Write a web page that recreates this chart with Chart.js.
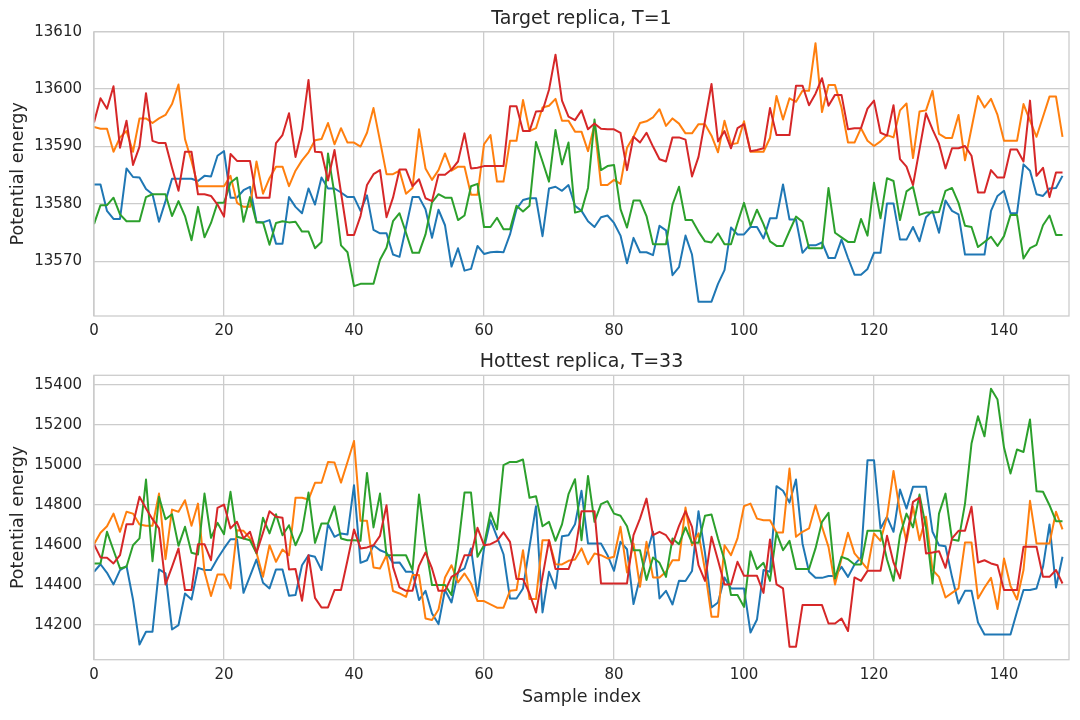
<!DOCTYPE html>
<html>
<head>
<meta charset="utf-8">
<title>Replica potential energy</title>
<script src="https://cdn.jsdelivr.net/npm/chart.js@4.4.0/dist/chart.umd.min.js"></script>
<style>
  html, body { margin: 0; padding: 0; background: #ffffff; }
  #wrap { position: relative; width: 1080px; height: 720px; }
  .box { position: absolute; left: 0; width: 1080px; }
  #box-top { top: 0; height: 345px; }
  #box-hot { top: 345px; height: 375px; }
</style>
</head>
<body>
<div id="wrap">
  <div class="box" id="box-top"><canvas id="chart-top"></canvas></div>
  <div class="box" id="box-hot"><canvas id="chart-hot"></canvas></div>
</div>
<script>
// --- data ------------------------------------------------------------------
const seriesNames = ["Run 1", "Run 2", "Run 3", "Run 4"];
const xTicks = [0, 20, 40, 60, 80, 100, 120, 140];
const topTicks = [13570, 13580, 13590, 13600, 13610];
const hotTicks = [14200, 14400, 14600, 14800, 15000, 15200, 15400];

// Target replica, T=1
const topBlue = [
  13583.4, 13583.4, 13578.8, 13577.4, 13577.4, 13586.2, 13584.7, 13584.6, 13582.6, 13581.7,
  13576.9, 13580.5, 13584.4, 13584.4, 13584.4, 13584.4, 13584.0, 13584.9, 13584.8, 13588.4,
  13589.2, 13581.1, 13581.1, 13582.4, 13583.0, 13576.9, 13576.8, 13577.2, 13573.1, 13573.1,
  13581.2, 13579.5, 13578.4, 13582.7, 13579.9, 13584.6, 13582.7, 13582.7, 13582.0, 13581.2,
  13581.2, 13578.8, 13581.5, 13575.5, 13574.9, 13574.9, 13571.2, 13570.8, 13575.9, 13581.2,
  13581.2, 13579.1, 13574.1, 13579.0, 13576.3, 13569.1, 13572.3, 13568.4, 13568.7, 13572.7,
  13571.3, 13571.6, 13571.7, 13571.6, 13574.7, 13579.1, 13580.7, 13581.0, 13581.0, 13574.4,
  13582.7, 13583.0, 13582.3, 13583.3, 13579.7, 13578.8, 13577.0, 13576.0, 13577.7, 13578.0,
  13576.7, 13574.5, 13569.7, 13574.1, 13571.6, 13571.6, 13571.1, 13576.2, 13575.4, 13567.6,
  13569.0, 13574.5, 13571.2, 13563.0, 13563.0, 13563.0, 13566.1, 13568.5, 13575.9, 13574.7,
  13574.7, 13576.0, 13576.0, 13574.0, 13577.5, 13577.5, 13583.4, 13577.3, 13577.3, 13571.5,
  13572.8, 13572.8, 13573.3, 13570.6, 13570.6, 13573.8, 13570.6, 13567.7, 13567.7, 13568.7,
  13571.5, 13571.5, 13580.1, 13580.1, 13573.8, 13573.8, 13576.0, 13573.5, 13577.7, 13578.8,
  13575.0, 13580.6, 13578.8, 13578.2, 13571.2, 13571.2, 13571.2, 13571.2, 13578.8, 13581.4,
  13582.3, 13578.4, 13578.4, 13586.9, 13585.8, 13581.7, 13581.4, 13582.7, 13582.8, 13584.9
];
const topOrange = [
  13593.4, 13593.1, 13593.1, 13589.1, 13591.6, 13592.7, 13589.1, 13594.9, 13594.9, 13594.1,
  13594.9, 13595.5, 13597.4, 13600.8, 13591.3, 13587.5, 13583.1, 13583.1, 13583.1, 13583.1,
  13583.1, 13584.9, 13580.2, 13579.5, 13579.5, 13587.4, 13581.8, 13584.5, 13586.5, 13586.5,
  13583.1, 13585.8, 13587.6, 13589.0, 13591.1, 13591.3, 13594.1, 13590.4, 13593.2, 13590.7,
  13590.7, 13590.0, 13592.4, 13596.7, 13591.0, 13585.2, 13585.2, 13585.8, 13581.8, 13582.8,
  13593.0, 13586.2, 13584.2, 13585.9, 13588.8, 13585.8, 13586.5, 13586.5, 13581.6, 13581.6,
  13590.4, 13592.0, 13583.9, 13583.9, 13591.0, 13591.0, 13598.1, 13592.7, 13593.2, 13596.8,
  13597.1, 13598.3, 13594.5, 13594.5, 13592.6, 13592.6, 13589.2, 13593.8, 13583.3, 13583.3,
  13584.2, 13583.5, 13589.8, 13591.7, 13594.1, 13594.4, 13595.1, 13596.5, 13593.6, 13594.9,
  13594.0, 13592.3, 13592.3, 13593.9, 13593.9, 13591.9, 13589.0, 13594.5, 13590.4, 13590.6,
  13594.4, 13589.1, 13589.1, 13589.1, 13591.5, 13598.8, 13594.7, 13598.4, 13597.8, 13599.7,
  13599.7, 13608.0, 13596.0, 13600.7, 13600.7, 13596.8, 13590.7, 13590.7, 13593.2, 13591.0,
  13590.1, 13590.9, 13592.0, 13591.6, 13596.3, 13597.5, 13588.0, 13596.1, 13596.3, 13599.7,
  13592.2, 13591.5, 13591.5, 13595.5, 13587.6, 13593.2, 13598.8, 13596.8, 13598.3, 13595.5,
  13591.0, 13591.0, 13591.0, 13597.4, 13594.5, 13591.7, 13595.2, 13598.7, 13598.7, 13591.7
];
const topGreen = [
  13576.5, 13579.8, 13579.8, 13581.1, 13578.2, 13577.0, 13577.0, 13577.0, 13581.2, 13581.7,
  13581.7, 13581.7, 13577.9, 13580.5, 13577.9, 13573.7, 13579.5, 13574.2, 13576.7, 13580.2,
  13580.2, 13583.7, 13584.6, 13576.9, 13581.2, 13576.8, 13576.8, 13572.9, 13576.7, 13577.0,
  13576.8, 13576.9, 13575.2, 13575.2, 13572.3, 13573.4, 13588.8, 13581.7, 13572.8, 13571.6,
  13565.7, 13566.1, 13566.1, 13566.1, 13570.3, 13572.4, 13577.0, 13578.4, 13575.0, 13571.5,
  13571.5, 13574.7, 13580.3, 13581.7, 13581.1, 13581.1, 13577.2, 13578.0, 13583.1, 13583.5,
  13576.0, 13576.0, 13577.6, 13575.6, 13575.6, 13579.7, 13578.7, 13579.7, 13590.8, 13587.4,
  13583.9, 13592.9, 13586.9, 13590.7, 13578.5, 13578.8, 13582.8, 13594.7, 13585.9, 13586.6,
  13586.8, 13579.1, 13575.9, 13580.6, 13580.6, 13577.9, 13573.0, 13573.0, 13573.0, 13579.9,
  13583.0, 13577.2, 13577.2, 13575.2, 13573.5, 13573.3, 13574.9, 13573.0, 13573.0, 13576.7,
  13580.2, 13576.2, 13579.0, 13576.5, 13573.5, 13572.7, 13572.7, 13575.3, 13577.8, 13576.9,
  13572.3, 13572.3, 13572.3, 13582.8, 13575.0, 13574.2, 13573.4, 13573.4, 13577.4, 13574.5,
  13583.7, 13577.5, 13584.5, 13584.0, 13577.2, 13582.2, 13583.0, 13578.1, 13578.5, 13578.5,
  13578.6, 13582.3, 13582.8, 13580.2, 13576.2, 13576.0, 13572.5, 13573.4, 13574.3, 13572.7,
  13574.4, 13578.1, 13578.1, 13570.5, 13572.3, 13572.9, 13576.3, 13578.0, 13574.6, 13574.6
];
const topRed = [
  13594.2, 13598.4, 13596.6, 13600.5, 13589.8, 13594.5, 13586.8, 13590.0, 13599.3, 13591.0,
  13590.6, 13590.6, 13586.3, 13582.3, 13589.1, 13589.1, 13581.7, 13581.7, 13581.4, 13579.9,
  13577.8, 13588.7, 13587.5, 13587.5, 13587.5, 13581.1, 13581.1, 13581.1, 13590.6, 13592.0,
  13595.8, 13588.2, 13593.0, 13601.6, 13589.1, 13589.0, 13584.1, 13589.4, 13582.0, 13574.6,
  13574.6, 13577.9, 13583.3, 13585.2, 13585.9, 13577.7, 13581.1, 13586.0, 13586.0, 13583.1,
  13584.3, 13581.0, 13580.5, 13585.1, 13585.1, 13586.0, 13587.4, 13592.3, 13586.2, 13586.3,
  13586.6, 13586.6, 13586.6, 13586.6, 13597.0, 13597.0, 13592.7, 13592.7, 13596.1, 13596.2,
  13599.9, 13606.0, 13598.0, 13595.2, 13594.6, 13596.3, 13593.0, 13594.0, 13593.1, 13593.0,
  13593.0, 13592.4, 13585.9, 13591.7, 13590.7, 13592.4, 13590.0, 13587.8, 13587.4, 13591.6,
  13591.6, 13591.2, 13584.8, 13588.2, 13594.5, 13600.9, 13590.9, 13592.7, 13589.7, 13593.2,
  13593.9, 13589.2, 13589.4, 13589.7, 13596.7, 13592.0, 13592.0, 13592.0, 13600.6, 13600.6,
  13597.2, 13599.2, 13601.9, 13597.1, 13599.0, 13599.0, 13593.0, 13593.2, 13593.2, 13596.6,
  13598.0, 13592.4, 13591.9, 13597.2, 13587.8, 13586.5, 13583.3, 13589.5, 13595.8, 13593.0,
  13590.5, 13586.2, 13589.7, 13589.7, 13590.1, 13588.4, 13582.0, 13582.0, 13585.9, 13584.6,
  13584.6, 13589.5, 13589.5, 13587.4, 13598.0, 13584.9, 13586.3, 13581.2, 13585.5, 13585.5
];

// Hottest replica, T=33
const hotBlue = [
  14465, 14503, 14460, 14402, 14474, 14494, 14327, 14102, 14166, 14166,
  14477, 14457, 14177, 14199, 14357, 14327, 14485, 14474, 14474, 14532,
  14582, 14628, 14628, 14360, 14444, 14527, 14410, 14382, 14477, 14477,
  14345, 14349, 14498, 14548, 14540, 14474, 14703, 14640, 14657, 14652,
  14898, 14510, 14523, 14598, 14573, 14560, 14510, 14512, 14465, 14465,
  14324, 14370, 14257, 14204, 14374, 14312, 14462, 14482, 14582, 14345,
  14582, 14723, 14640, 14553, 14332, 14332, 14382, 14590, 14793, 14262,
  14465, 14382, 14643, 14648, 14703, 14870, 14607, 14607, 14607, 14548,
  14470, 14615, 14578, 14304, 14437, 14552, 14665, 14332, 14370, 14302,
  14420, 14419, 14469, 14768, 14560, 14287, 14312, 14437, 14382, 14382,
  14382, 14162, 14227, 14474, 14465, 14893, 14870, 14811, 14926, 14607,
  14465, 14435, 14435, 14444, 14444, 14490, 14440, 14502, 14537, 15023,
  15023, 14682, 14740, 14665, 14876, 14781, 14890, 14890, 14890, 14665,
  14598, 14593, 14440, 14307, 14370, 14370, 14212, 14152, 14152, 14152,
  14152, 14152, 14266, 14374, 14374, 14382, 14490, 14702, 14387, 14540
];
const hotOrange = [
  14603, 14660, 14693, 14756, 14665, 14765, 14756, 14702, 14695, 14695,
  14856, 14528, 14776, 14765, 14823, 14695, 14806, 14465, 14344, 14452,
  14452, 14382, 14673, 14670, 14632, 14560, 14440, 14598, 14515, 14577,
  14548, 14835, 14835, 14826, 14910, 14910, 15014, 15011, 14911, 15014,
  15119, 14720, 14720, 14487, 14482, 14548, 14369, 14357, 14340, 14449,
  14449, 14232, 14224, 14277, 14437, 14498, 14412, 14457, 14407, 14319,
  14319, 14302, 14286, 14286, 14370, 14374, 14573, 14329, 14329, 14623,
  14623, 14503, 14502, 14520, 14527, 14582, 14503, 14557, 14548, 14532,
  14540, 14690, 14462, 14607, 14390, 14615, 14437, 14437, 14465, 14523,
  14523, 14786, 14598, 14657, 14474, 14241, 14241, 14598, 14548, 14632,
  14793, 14806, 14731, 14723, 14723, 14662, 14662, 14981, 14640, 14665,
  14682, 14798, 14690, 14590, 14402, 14532, 14660, 14557, 14518, 14479,
  14657, 14620, 14740, 14969, 14765, 14615, 14790, 14623, 14740, 14474,
  14440, 14337, 14360, 14382, 14612, 14612, 14332, 14387, 14435, 14279,
  14532, 14394, 14327, 14474, 14820, 14607, 14607, 14607, 14765, 14677
];
const hotGreen = [
  14507, 14507, 14665, 14573, 14482, 14490, 14598, 14632, 14926, 14518,
  14840, 14728, 14753, 14595, 14690, 14560, 14552, 14856, 14635, 14710,
  14653, 14865, 14640, 14632, 14623, 14557, 14735, 14657, 14753, 14648,
  14698, 14598, 14670, 14861, 14610, 14707, 14707, 14793, 14632, 14623,
  14623, 14620, 14959, 14687, 14856, 14548, 14548, 14548, 14548, 14474,
  14851, 14598, 14399, 14399, 14399, 14349, 14582, 14861, 14861, 14540,
  14598, 14761, 14677, 14998, 15014, 15014, 15026, 14835, 14843, 14693,
  14715, 14620, 14702, 14853, 14928, 14623, 14944, 14715, 14803, 14818,
  14756, 14745, 14693, 14573, 14573, 14424, 14537, 14510, 14440, 14632,
  14603, 14687, 14610, 14610, 14745, 14751, 14632, 14523, 14349, 14349,
  14290, 14568, 14479, 14510, 14420, 14660, 14573, 14620, 14479, 14479,
  14479, 14582, 14715, 14760, 14432, 14540, 14528, 14502, 14502, 14670,
  14670, 14670, 14527, 14420, 14648, 14756, 14687, 14851, 14687, 14407,
  14756, 14856, 14627, 14620, 14806, 15106, 15242, 15142, 15380, 15326,
  15086, 14956, 15076, 15064, 15226, 14868, 14865, 14798, 14718, 14718
];
const hotRed = [
  14603, 14537, 14535, 14507, 14548, 14703, 14703, 14840, 14781, 14728,
  14682, 14402, 14490, 14582, 14374, 14374, 14603, 14603, 14523, 14785,
  14801, 14682, 14715, 14632, 14665, 14560, 14660, 14768, 14740, 14735,
  14477, 14479, 14320, 14548, 14335, 14287, 14287, 14374, 14374, 14523,
  14677, 14582, 14587, 14598, 14645, 14798, 14490, 14387, 14370, 14370,
  14495, 14562, 14482, 14370, 14370, 14440, 14460, 14548, 14548, 14685,
  14598, 14603, 14620, 14662, 14615, 14429, 14429, 14357, 14262, 14440,
  14623, 14479, 14479, 14479, 14565, 14768, 14768, 14768, 14407, 14407,
  14407, 14407, 14407, 14648, 14731, 14831, 14648, 14665, 14648, 14602,
  14695, 14768, 14690, 14498, 14420, 14640, 14523, 14402, 14402, 14515,
  14445, 14445, 14445, 14360, 14627, 14402, 14382, 14091, 14091, 14299,
  14299, 14299, 14299, 14207, 14207, 14232, 14169, 14437, 14420, 14470,
  14470, 14470, 14645, 14512, 14432, 14632, 14815, 14836, 14557, 14562,
  14568, 14485, 14632, 14670, 14670, 14790, 14512, 14523, 14507, 14498,
  14374, 14374, 14374, 14590, 14590, 14590, 14440, 14440, 14474, 14407
];

// sample index along x (0 .. 149)
const sampleIndex = topBlue.map((_, i) => i);

// --- styling ---------------------------------------------------------------
const COLORS = ["#1f77b4", "#ff7f0e", "#2ca02c", "#d62728"];
const GRID = "#cccccc";
const INK = "#262626";
const FONT = "'DejaVu Sans', 'Liberation Sans', sans-serif";

function toPoints(values) {
  return values.map((v, i) => ({ x: sampleIndex[i], y: v }));
}

// light grey frame round the plot area (the seaborn spines)
const framePlugin = {
  id: "frame",
  afterDatasetsDraw(chart) {
    const a = chart.chartArea;
    const ctx = chart.ctx;
    ctx.save();
    ctx.strokeStyle = GRID;
    ctx.lineWidth = 1.3;
    ctx.strokeRect(a.left, a.top, a.right - a.left, a.bottom - a.top);
    ctx.restore();
  }
};

function keepTicks(list) {
  return (axis) => {
    axis.ticks = list.map(v => ({ value: v }));
  };
}

function buildChart(canvasId, cfg) {
  const ctx = document.getElementById(canvasId).getContext("2d");
  return new Chart(ctx, {
    type: "line",
    data: {
      datasets: cfg.series.map((vals, k) => ({
        label: seriesNames[k],
        data: toPoints(vals),
        borderColor: COLORS[k],
        backgroundColor: COLORS[k],
        borderWidth: 2,
        pointRadius: 0,
        tension: 0,
        borderJoinStyle: "round",
        order: 3 - k   // later series drawn on top, like matplotlib
      }))
    },
    options: {
      responsive: true,
      maintainAspectRatio: false,
      animation: false,
      devicePixelRatio: 1,
      layout: { padding: { left: 0, right: 11, top: 0, bottom: 0 } },
      plugins: {
        legend: { display: false },
        tooltip: { enabled: false },
        title: {
          display: true,
          fullSize: false,   // centre over the plot area, not the canvas
          text: cfg.title,
          color: INK,
          font: { family: FONT, size: 19, weight: "normal" },
          padding: { top: cfg.titleTop, bottom: cfg.titleBottom }
        }
      },
      scales: {
        x: {
          type: "linear",
          min: 0,
          max: 150,
          afterBuildTicks: keepTicks(xTicks),
          afterFit: (s) => { s.height = cfg.xHeight; },
          ticks: {
            color: INK,
            font: { family: FONT, size: 15 },
            padding: 6,
            maxRotation: 0,
            autoSkip: false,
            callback: (v) => String(v)
          },
          grid: { color: GRID, lineWidth: 1.3, drawTicks: false },
          border: { display: false },
          title: {
            display: cfg.xTitle !== "",
            text: cfg.xTitle,
            color: INK,
            font: { family: FONT, size: 17.5 },
            padding: { top: 0, bottom: 12.5 }
          }
        },
        y: {
          type: "linear",
          min: cfg.yMin,
          max: cfg.yMax,
          afterBuildTicks: keepTicks(cfg.yTicks),
          afterFit: (s) => { s.width = 94; },
          ticks: {
            color: INK,
            font: { family: FONT, size: 15 },
            padding: 12,
            autoSkip: false,
            callback: (v) => String(v)
          },
          grid: { color: GRID, lineWidth: 1.3, drawTicks: false },
          border: { display: false },
          title: {
            display: true,
            text: "Potential energy",
            color: INK,
            font: { family: FONT, size: 17.5 },
            padding: { top: 8, bottom: 0 }
          }
        }
      }
    },
    plugins: [framePlugin]
  });
}

buildChart("chart-top", {
  title: "Target replica, T=1",
  series: [topBlue, topOrange, topGreen, topRed],
  yMin: 13560.5,
  yMax: 13610,
  yTicks: topTicks,
  titleTop: 7.6,
  titleBottom: 1.3,
  xHeight: 29,
  xTitle: ""
});

buildChart("chart-hot", {
  title: "Hottest replica, T=33",
  series: [hotBlue, hotOrange, hotGreen, hotRed],
  yMin: 14026,
  yMax: 15447,
  yTicks: hotTicks,
  titleTop: 5.6,
  titleBottom: 1.9,
  xHeight: 60.3,
  xTitle: "Sample index"
});
</script>
</body>
</html>
